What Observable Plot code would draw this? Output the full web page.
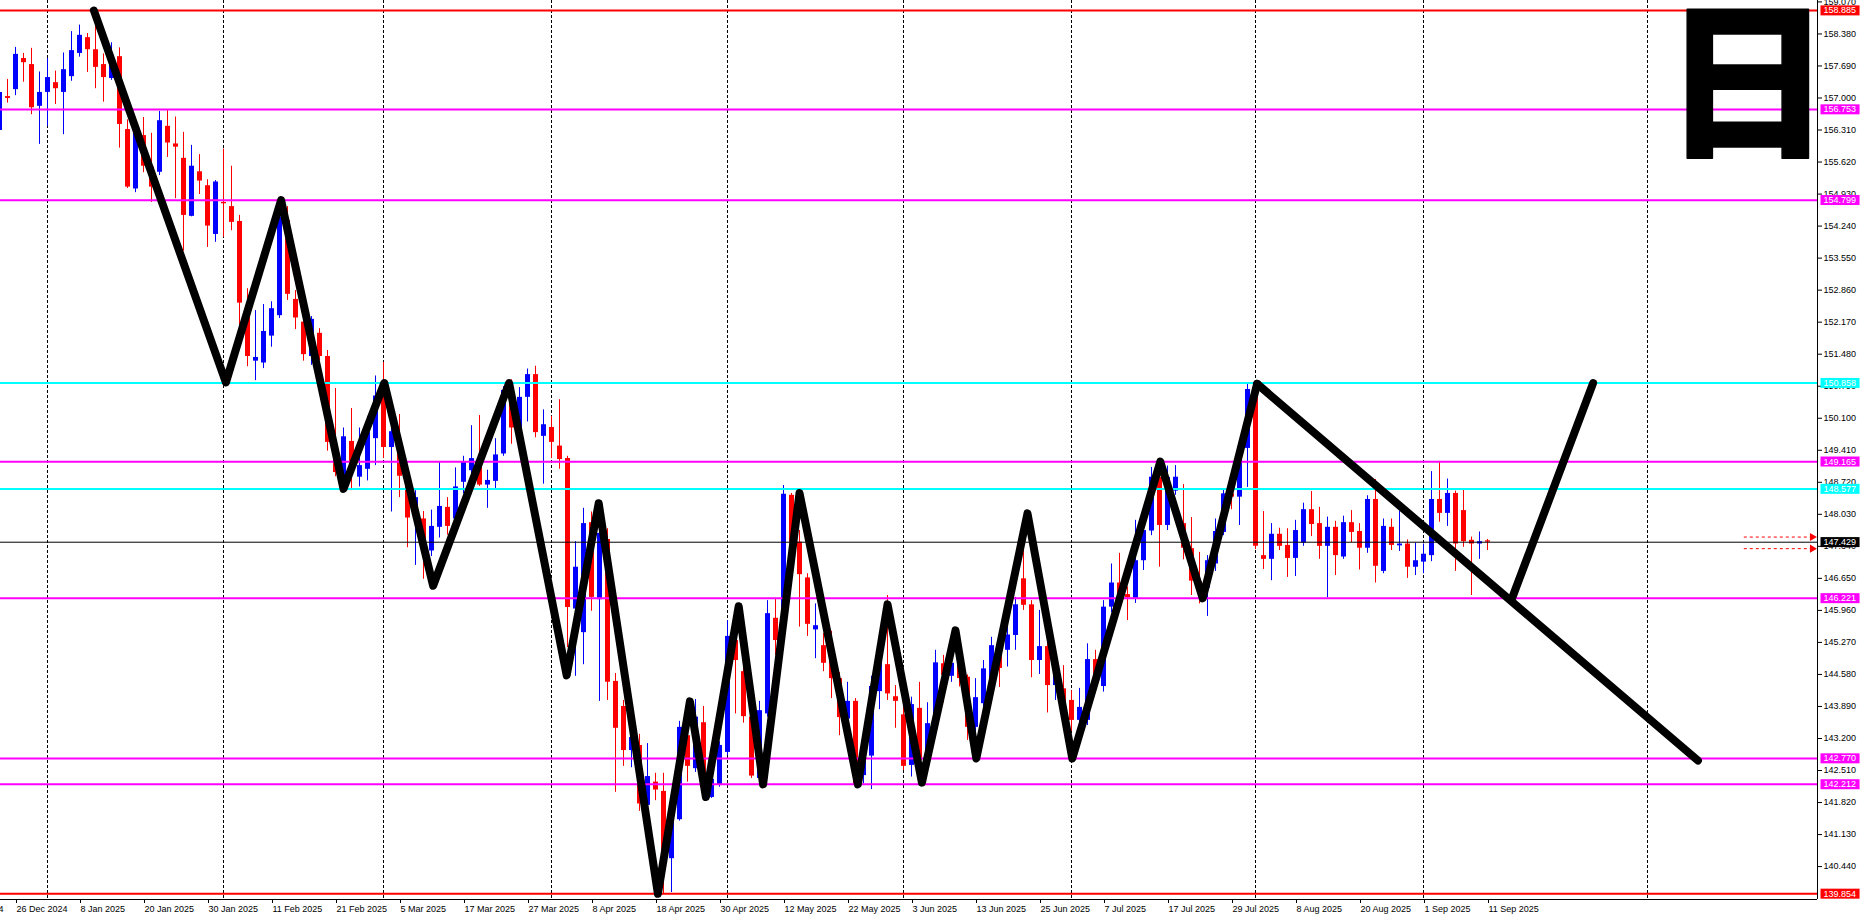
<!DOCTYPE html>
<html><head><meta charset="utf-8">
<script src="https://cdn.jsdelivr.net/npm/d3@7"></script>
<script src="https://cdn.jsdelivr.net/npm/@observablehq/plot@0.6"></script>
<style>html,body{margin:0;padding:0;background:#fff;overflow:hidden}</style>
</head><body><div id="chart"></div>
<script>
// ---- data (daily candles, index 0 = 26 Dec 2024) ----
const firstIndex = -2;
const opens = [156.30,157.03,157.18,157.85,157.72,156.82,157.12,157.33,157.12,157.46,157.96,158.30,158.04,157.72,157.42,157.89,156.32,155.04,156.19,155.51,155.40,156.39,156.01,155.70,154.45,155.41,155.11,154.06,154.75,154.66,154.34,152.53,151.33,151.29,151.87,152.31,154.36,152.66,152.17,151.43,151.93,151.43,149.48,148.77,149.60,148.83,149.00,149.66,150.77,149.47,149.47,148.62,147.93,147.93,147.24,147.75,148.18,147.93,148.72,148.97,149.16,148.66,148.74,149.33,150.70,149.89,150.55,151.04,149.71,149.90,149.50,149.23,145.99,145.48,147.85,146.19,147.49,144.43,143.89,142.94,143.05,141.76,142.26,142.06,140.61,141.45,143.26,142.55,143.54,141.93,142.19,142.90,145.31,144.64,143.66,142.34,143.73,145.79,145.60,148.44,147.43,146.66,145.54,145.20,144.88,144.49,143.62,144.00,142.40,142.82,144.21,144.79,144.10,143.71,142.62,143.85,142.73,143.48,144.81,144.54,144.77,144.52,143.44,143.95,144.45,145.14,145.10,145.42,146.64,146.08,144.88,145.18,144.34,144.27,144.02,143.59,143.59,144.90,144.32,146.03,146.55,146.30,146.22,147.03,147.67,148.83,147.79,148.53,147.83,147.29,146.58,146.44,146.96,147.64,148.47,148.40,149.45,150.81,147.14,147.06,147.60,147.36,147.08,147.41,148.13,147.83,147.34,147.75,147.11,147.85,147.66,147.30,148.35,146.80,147.75,147.35,147.39,146.89,147.00,147.14,148.35,148.05,148.48,148.11,147.47,147.39,147.46];
const highs = [157.27,157.40,158.09,157.96,158.07,157.56,157.85,157.58,157.97,158.43,158.57,158.39,158.88,157.95,158.19,158.08,156.53,156.41,156.58,156.24,156.71,156.73,156.59,156.26,155.98,155.78,155.24,155.22,155.90,155.53,154.47,152.89,152.42,152.55,152.61,154.68,154.66,152.85,152.31,152.29,152.03,151.56,150.74,149.89,150.31,149.89,150.14,151.01,151.30,150.16,150.18,148.78,148.54,148.09,148.12,149.16,148.39,149.03,149.28,149.94,150.16,148.98,149.66,150.78,150.93,150.76,151.16,151.22,150.28,150.14,150.50,149.28,147.44,148.16,148.08,147.90,147.72,144.60,144.02,143.37,143.29,143.09,142.45,142.45,141.93,143.57,143.44,144.04,143.89,142.38,143.13,145.74,145.63,144.88,143.87,144.00,146.17,146.22,148.65,148.48,147.68,146.75,146.10,145.46,145.51,144.62,144.41,144.06,143.05,144.54,145.04,146.28,144.34,143.91,144.09,144.41,143.97,145.10,144.99,145.05,144.92,144.57,144.49,144.88,145.38,145.31,145.60,146.24,147.53,146.17,145.96,145.31,144.88,144.77,144.23,144.28,145.24,145.10,146.17,146.96,147.19,146.46,147.90,147.79,149.04,148.97,149.07,149.08,148.67,147.96,147.21,147.14,147.93,148.58,148.76,149.56,150.85,150.87,148.09,147.83,147.73,147.72,147.90,148.27,148.52,148.18,147.97,147.88,147.99,148.11,147.83,148.43,148.78,147.93,147.93,148.10,147.48,147.41,147.39,148.95,149.17,148.79,148.53,148.58,147.54,147.65,147.49];
const lows = [156.24,156.89,157.05,157.34,156.64,156.00,156.39,156.86,156.21,157.36,157.88,157.55,157.20,156.91,157.38,155.92,155.05,154.96,155.39,154.75,155.33,155.72,154.83,153.70,154.44,154.92,153.78,153.89,154.00,154.14,152.10,151.21,150.91,151.17,151.63,152.25,152.64,152.01,151.33,151.24,151.34,149.39,148.84,148.54,148.54,148.62,148.75,149.08,149.23,148.08,148.39,147.31,146.93,146.63,147.12,147.52,147.58,147.79,148.47,148.76,148.63,148.16,148.56,149.28,149.54,149.86,150.02,149.68,148.68,149.23,149.00,145.16,144.54,144.79,145.94,144.00,144.02,142.04,142.60,142.57,141.63,141.69,141.86,139.86,139.88,141.42,142.26,142.47,141.91,141.91,142.15,142.83,143.73,143.53,142.34,142.29,143.66,144.99,145.53,147.36,145.60,145.40,144.92,144.64,144.06,143.26,143.26,142.19,142.22,142.10,143.82,144.02,143.42,142.51,142.37,142.23,142.51,143.37,143.97,144.41,144.31,143.16,142.94,143.80,144.23,144.30,144.74,145.10,145.96,144.51,144.58,143.75,144.02,143.77,143.35,143.42,143.48,144.18,144.20,145.91,145.96,145.74,146.11,146.82,147.57,146.89,147.68,148.44,147.05,146.28,146.10,145.83,146.80,147.57,148.13,147.79,148.61,147.27,146.84,146.60,147.25,146.67,146.69,147.34,147.55,147.06,146.23,146.71,147.06,147.42,146.83,147.19,146.55,146.75,147.25,147.23,146.65,146.71,146.75,147.01,147.86,147.77,146.80,147.32,146.28,147.06,147.25];
const closes = [157.12,156.99,157.94,157.76,156.79,157.12,157.44,157.20,157.61,158.02,158.35,158.04,157.66,157.44,157.92,156.43,155.08,156.30,155.53,155.08,156.51,156.03,155.94,154.47,155.53,155.21,154.24,155.19,154.72,154.32,152.58,151.43,151.41,151.97,152.46,154.43,152.77,152.26,151.47,152.23,151.43,149.58,148.93,149.70,148.93,149.08,149.79,150.58,149.47,149.81,148.85,147.95,148.39,147.20,147.77,148.20,147.77,148.62,149.16,149.23,148.66,148.76,149.31,150.70,149.89,150.55,151.04,149.79,149.96,149.58,149.21,146.02,146.89,147.83,146.24,147.62,144.41,143.42,142.94,143.22,141.79,142.38,142.09,140.57,141.43,143.44,142.60,143.66,142.08,142.32,143.05,145.40,144.88,143.67,142.39,143.80,145.89,145.31,148.46,147.43,146.73,145.66,145.63,144.82,144.49,143.65,144.00,142.22,142.83,144.32,144.84,144.16,144.00,142.60,143.93,142.73,143.52,144.83,144.56,144.82,144.49,143.44,144.08,144.70,145.20,144.71,145.43,146.08,146.07,144.88,145.18,144.34,144.71,143.82,143.59,143.87,144.90,144.38,146.03,146.55,146.24,146.23,147.03,147.68,148.83,147.79,148.82,148.83,147.30,146.59,146.35,147.03,147.66,148.47,148.40,149.48,150.72,147.34,147.06,147.60,147.34,147.08,147.68,148.13,147.81,147.34,147.75,147.14,147.85,147.64,147.30,148.35,146.91,147.77,147.36,147.39,146.89,147.03,147.17,148.35,148.05,148.48,147.39,147.44,147.39,147.44,147.43];

const levelPrices = [158.885,156.753,154.799,150.858,149.165,148.577,146.221,142.770,142.212,139.854];
const levelColors = ["#ff0000","#ff00ff","#ff00ff","#00ffff","#ff00ff","#00ffff","#ff00ff","#ff00ff","#ff00ff","#ff0000"];
const bidPrice = 147.429;
const orderPrices = [147.54, 147.29];
const orderFrom = 216.1, orderTo = 224.6;

const yTicks = [159.070,158.380,157.690,157.000,156.310,155.620,154.930,154.240,153.550,152.860,152.170,151.480,150.790,150.100,149.410,148.720,148.030,147.340,146.650,145.960,145.270,144.580,143.890,143.200,142.510,141.820,141.130,140.440];
const xTickIndex = [-8,0,8,16,24,32,40,48,56,64,72,80,88,96,104,112,120,128,136,144,152,160,168,176,184];
const xTickLabels = ["13 Dec 2024","26 Dec 2024","8 Jan 2025","20 Jan 2025","30 Jan 2025","11 Feb 2025","21 Feb 2025","5 Mar 2025","17 Mar 2025","27 Mar 2025","8 Apr 2025","18 Apr 2025","30 Apr 2025","12 May 2025","22 May 2025","3 Jun 2025","13 Jun 2025","25 Jun 2025","7 Jul 2025","17 Jul 2025","29 Jul 2025","8 Aug 2025","20 Aug 2025","1 Sep 2025","11 Sep 2025"];
const monthStartIndex = [4,26,46,67,89,111,132,155,176,204];

const zigIndex = [9.8,26.3,33.2,41.0,46.1,52.2,61.7,68.9,72.9,80.3,84.3,86.3,90.4,93.45,98.0,105.3,109.0,113.3,117.5,120.1,126.5,132.1,143.1,148.4,155.2];
const zigPrice = [158.885,150.87,154.799,148.577,150.858,146.49,150.858,144.56,148.27,139.854,144.00,141.94,146.05,142.212,148.49,142.212,146.09,142.25,145.53,142.77,148.05,142.77,149.165,146.221,150.84];
const projDownIndex = [155.2,210.3], projDownPrice = [150.84,142.725];
const projUpIndex = [187.0,197.2], projUpPrice = [146.19,150.858];
const cornerGlyph = "日";

// ---- build ----
const xMin = -1.875, xMax = 225.25;
const yMin = 139.731, yMax = 159.1005;

const candles = opens.map((o,k)=>({i:firstIndex+k,o,h:highs[k],l:lows[k],c:closes[k]}));
const candleColor = d => d.c >= d.o ? "#0000ff" : "#ff0000";
const levels = levelPrices.map((p,k)=>({p,color:levelColors[k]}));
const zig = [
  ...zigIndex.map((x,k)=>({x,y:zigPrice[k],z:"a"})),
  ...projDownIndex.map((x,k)=>({x,y:projDownPrice[k],z:"b"})),
  ...projUpIndex.map((x,k)=>({x,y:projUpPrice[k],z:"c"}))
];
const labelByIndex = new Map(xTickIndex.map((d,k)=>[d,xTickLabels[k]]));
const boxLabels = [...levels.map(d=>({p:d.p,color:d.color})),{p:bidPrice,color:"#000000"}];

const chart = Plot.plot({
  width:1865, height:918,
  marginTop:0, marginLeft:0, marginRight:48, marginBottom:19,
  x:{type:"linear", domain:[xMin,xMax], axis:null},
  y:{type:"linear", domain:[yMin,yMax], axis:null},
  color:{type:"identity"},
  style:{fontFamily:"'Liberation Sans', Arial, sans-serif", fontSize:"9px", background:"#ffffff", color:"#000"},
  marks:[
    Plot.ruleX(monthStartIndex,{stroke:"#000", strokeWidth:1, strokeDasharray:"3,2"}),
    Plot.ruleX(candles,{x:"i", y1:"l", y2:"h", stroke:candleColor, strokeWidth:1}),
    Plot.ruleX(candles,{x:"i", y1:"o", y2:"c", stroke:candleColor, strokeWidth:5}),
    Plot.ruleY(levels,{y:"p", stroke:"color", strokeWidth:2}),
    Plot.ruleY([bidPrice],{stroke:"#000", strokeWidth:1}),
    Plot.ruleY(orderPrices,{y:d=>d, x1:orderFrom, x2:orderTo, stroke:"#ff0000", strokeWidth:1, strokeDasharray:"3,3"}),
    Plot.dot(orderPrices,{x:orderTo, y:d=>d, symbol:"triangle", rotate:90, r:3, fill:"#ff0000", stroke:"none"}),
    Plot.line(zig,{x:"x", y:"y", z:"z", stroke:"#000", strokeWidth:8, strokeLinecap:"round", strokeLinejoin:"round"}),
    Plot.text([cornerGlyph],{frameAnchor:"top-right", text:d=>d, dx:-70, dy:90, textAnchor:"middle", lineAnchor:"middle", fontSize:168, fontWeight:900, fontFamily:"'Noto Sans CJK SC', 'Noto Sans CJK JP', sans-serif", fill:"#000", stroke:"#000", strokeWidth:1.5}),
    Plot.ruleX([xMax],{stroke:"#000", strokeWidth:1}),
    Plot.ruleY([yMin],{stroke:"#000", strokeWidth:1}),
    Plot.axisY(yTicks,{anchor:"right", tickSize:4, tickPadding:2, tickFormat:d=>d.toFixed(3), label:null, fontSize:9}),
    Plot.axisX(xTickIndex,{anchor:"bottom", tickSize:4, tickPadding:2, tickFormat:d=>labelByIndex.get(d), textAnchor:"start", dx:1, label:null, fontSize:9}),
    Plot.text(boxLabels,{x:xMax, y:"p", text:d=>d.p.toFixed(3), dx:6, textAnchor:"start", fill:"#ffffff", fontSize:9, ariaLabel:"level-labels"})
  ]
});
document.getElementById("chart").append(chart);

// coloured boxes behind the level labels
const wanted = new Set(boxLabels.map(d=>d.p.toFixed(3)));
let texts = Array.from(chart.querySelectorAll('text[aria-label="level-labels"]'));
if (!texts.length) {
  texts = Array.from(chart.querySelectorAll("text")).filter(t => {
    const f = t.getAttribute("fill") || (t.parentNode && t.parentNode.getAttribute && t.parentNode.getAttribute("fill"));
    return wanted.has(t.textContent.trim()) && f && f.toLowerCase() === "#ffffff";
  });
}
texts.forEach((t,k)=>{
  const bb = t.getBBox();
  const r = document.createElementNS("http://www.w3.org/2000/svg","rect");
  r.setAttribute("x", bb.x - 3);
  r.setAttribute("y", bb.y);
  r.setAttribute("width", bb.width + 6.5);
  r.setAttribute("height", bb.height);
  const match = boxLabels.find(d => d.p.toFixed(3) === t.textContent.trim());
  r.setAttribute("fill", match ? match.color : "#000");
  const tr = t.getAttribute("transform");
  if (tr) r.setAttribute("transform", tr);
  t.parentNode.insertBefore(r, t);
});
</script></body></html>
